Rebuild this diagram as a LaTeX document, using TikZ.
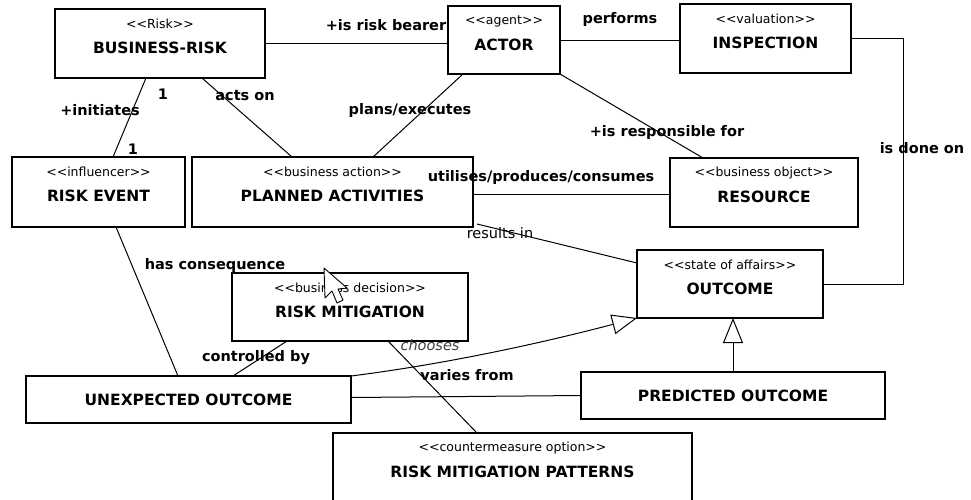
\documentclass[tikz,border=0pt]{standalone}
\usepackage{fontspec}
\setmainfont{DejaVu Sans}
\usetikzlibrary{calc,arrows.meta}

\tikzset{
  box/.style={draw, line width=1.1pt, fill=white, inner sep=0pt, outer sep=0pt},
  stereo/.style={font=\fontsize{12.5}{14}\selectfont, inner sep=0pt},
  title/.style={font=\fontsize{15.5}{18}\selectfont\bfseries, inner sep=0pt},
  lbl/.style={font=\fontsize{14.5}{17}\selectfont\bfseries, inner sep=0pt},
  plainlbl/.style={font=\fontsize{14.5}{17}\selectfont, inner sep=0pt},
  link/.style={line width=1pt},
  gen/.style={line width=1pt, -{Triangle[open, length=25pt, width=20pt, line width=1pt]}},
}

% stereotype brackets kept as two plain angle signs each
\newcommand\stq[1]{<\kern0pt<#1>\kern0pt>}

% class box with a stereotype line and a title line
\newcommand\umlbox[7]{%
  \node[box, minimum width=#4pt, minimum height=#5pt] (#1) at (#2,#3) {};
  \node[stereo] (#1-st) at ($(#1.north)+(0,15)$) {\stq{#6}};
  \node[title] (#1-tt) at ($(#1.north)+(0,39)$) {#7};
}

\begin{document}
\begin{tikzpicture}[x=1pt,y=-1pt]
\useasboundingbox (0,0) rectangle (971,499);
\fill[white] (0,0) rectangle (971,499);

% classes
\umlbox{br}{160}{43.5}{210}{69}{Risk}{BUSINESS-RISK}
\umlbox{actor}{504}{40}{112}{68}{agent}{ACTOR}
\umlbox{insp}{765.5}{38.5}{171}{69}{valuation}{INSPECTION}
\umlbox{re}{98.5}{192}{173}{70}{influencer}{RISK EVENT}
\umlbox{pa}{332.5}{192}{281}{70}{business action}{PLANNED ACTIVITIES}
\umlbox{res}{764}{192.5}{188}{69}{business object}{RESOURCE}
\umlbox{out}{730}{284}{186}{68}{state of affairs}{OUTCOME}
\umlbox{rm}{350}{307}{236}{68}{business decision}{RISK MITIGATION}
\umlbox{rmp}{512.5}{478}{359}{90}{countermeasure option}{RISK MITIGATION PATTERNS}
\node[box, title, minimum width=325pt, minimum height=47pt] (uo) at (188.5,399.5) {UNEXPECTED OUTCOME};
\node[box, title, minimum width=304pt, minimum height=47pt] (po) at (733,395.5) {PREDICTED OUTCOME};

% associations
\draw[link] (br.east) -- (actor.west |- br.east);
\draw[link] (actor.east) -- (insp.west |- actor.east);
\draw[link] (insp.east) -- ++(52,0) coordinate (turn1) |- (out.east);
\draw[link] ([xshift=-14pt]br.south) -- ([xshift=14.5pt]re.north);
\draw[link] ([xshift=42pt]br.south) -- ([xshift=-40.5pt]pa.north);
\draw[link] ([xshift=-41pt]actor.south) -- ([xshift=40.5pt]pa.north);
\draw[link] (actor.south east) -- ([xshift=-61pt]res.north);
\draw[link] ([yshift=-2pt]pa.east) -- ([yshift=-2pt]res.west |- pa.east);
\draw[link] ([xshift=4pt,yshift=3pt]pa.south east) -- ([yshift=21pt]out.west);
\draw[link] ([xshift=17.5pt]re.south) -- ([xshift=-10.5pt]uo.north);
\draw[link] ([xshift=-63pt]rm.south) -- ([xshift=44.5pt]uo.north);
\draw[link] ([xshift=38pt]rm.south) -- ([xshift=-35.5pt]rmp.north);
\draw[link] ([yshift=2pt]uo.east) -- (po.west);

% generalizations
\draw[gen] (uo.north east) .. controls +(95,-12) and +(-95,25) .. (out.south west);
\draw[gen] (po.north) -- (po.north |- out.south);

% association labels
\node[lbl] (l-bearer) at (386,25) {+is risk bearer};
\node[lbl] (l-performs) at (620,19) {performs};
\node[lbl] (l-doneon) at (922,148) {is done on};
\node[lbl] (l-initiates) at (100,110) {+initiates};
\node[lbl] (l-one-a) at (163,94) {1};
\node[lbl] (l-one-b) at (133,149) {1};
\node[lbl] (l-actson) at (245,96) {acts on};
\node[lbl] (l-plans) at (410,110) {plans/executes};
\node[lbl] (l-resp) at (667,132) {+is responsible for};
\node[lbl] (l-uses) at (541,177) {utilises/produces/consumes};
\node[plainlbl] (l-results) at (500,233) {results in};
\node[lbl] (l-conseq) at (215,265) {has consequence};
\node[lbl] (l-control) at (256,358) {controlled by};
\node[plainlbl, font=\fontsize{14.5}{17}\selectfont\itshape, text=black!75] (l-chooses) at (430,345) {chooses};
\node[lbl] (l-varies) at (467,375) {varies from};

% mouse pointer
\draw[fill=white, line width=0.9pt, line join=round]
  (324,268) -- (325,298) -- (332,291) -- (337,303) -- (343,300) -- (338,289) -- (347,288) -- cycle;
\end{tikzpicture}
\end{document}
